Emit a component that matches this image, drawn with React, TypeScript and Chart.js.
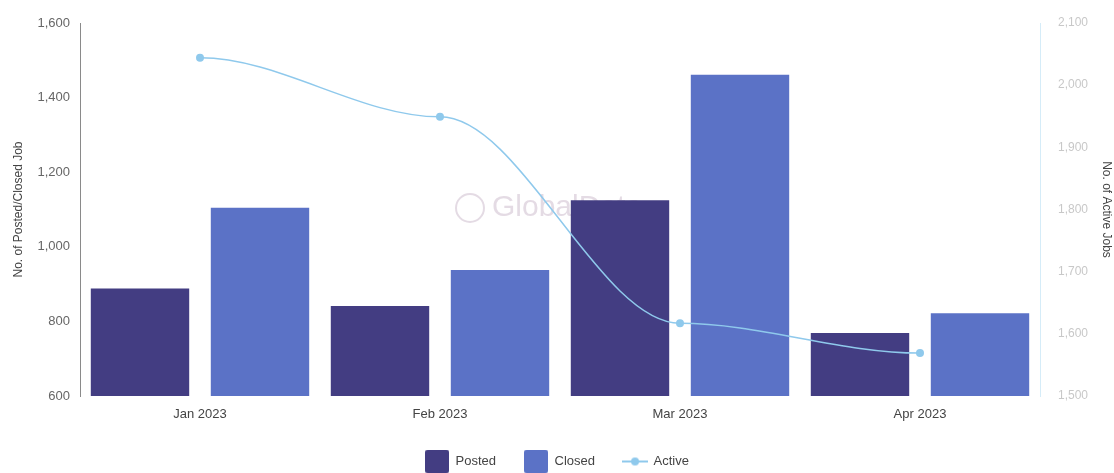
import React, { useEffect, useRef } from "react";
import { Chart, registerables } from "chart.js";

Chart.register(...registerables);

const months = ["Jan 2023", "Feb 2023", "Mar 2023", "Apr 2023"];
const postedJobs = [888, 841, 1125, 769];
const closedJobs = [1105, 938, 1461, 822];
const activeJobs = [2044, 1949, 1617, 1569];

const leftTicks = { min: 600, max: 1600, step: 200 };
const rightTicks = { min: 1500, max: 2100, step: 100 };

const POSTED = "#433d82";
const CLOSED = "#5b72c6";
const ACTIVE = "#8fc9ec";
const FONT = "'Liberation Sans', Arial, sans-serif";

function boxIcon(color: string): HTMLCanvasElement {
  const c = document.createElement("canvas");
  c.width = 24;
  c.height = 24;
  const g = c.getContext("2d")!;
  g.fillStyle = color;
  g.beginPath();
  g.roundRect(0, 0, 24, 24, 3);
  g.fill();
  return c;
}

function lineIcon(color: string): HTMLCanvasElement {
  const c = document.createElement("canvas");
  c.width = 26;
  c.height = 10;
  const g = c.getContext("2d")!;
  g.strokeStyle = color;
  g.lineWidth = 2;
  g.beginPath();
  g.moveTo(0, 5);
  g.lineTo(26, 5);
  g.stroke();
  g.fillStyle = color;
  g.beginPath();
  g.arc(13, 5, 4, 0, Math.PI * 2);
  g.fill();
  return c;
}

// Faint brand mark behind the bars
const watermark = {
  id: "watermark",
  beforeDatasetsDraw(chart: any) {
    const { ctx, chartArea } = chart;
    const cx = (chartArea.left + chartArea.right) / 2;
    const cy = 208;
    ctx.save();
    ctx.strokeStyle = "rgba(210,195,210,0.6)";
    ctx.lineWidth = 2;
    ctx.beginPath();
    ctx.arc(cx - 90, cy, 14, 0, Math.PI * 2);
    ctx.stroke();
    ctx.fillStyle = "rgba(210,195,210,0.6)";
    ctx.font = `30px ${FONT}`;
    ctx.textBaseline = "middle";
    ctx.fillText("GlobalData", cx - 68, cy);
    ctx.restore();
  },
};

// Smooth the line with level tangents at every point (control points one third of the way along x)
const flatSpline = {
  id: "flatSpline",
  beforeDatasetDraw(chart: any, args: any) {
    const meta = args.meta;
    if (meta.type !== "line") return;
    meta.dataset.updateControlPoints(chart.chartArea, "x");
    const pts = meta.data;
    pts.forEach((p: any, i: number) => {
      const prev = pts[i - 1];
      const next = pts[i + 1];
      p.cp1x = prev ? p.x - (p.x - prev.x) / 3 : p.x;
      p.cp1y = p.y;
      p.cp2x = next ? p.x + (next.x - p.x) / 3 : p.x;
      p.cp2y = p.y;
    });
  },
};

export default function App() {
  const ref = useRef<HTMLCanvasElement>(null);

  useEffect(() => {
    document.body.style.margin = "0";
    const postedIcon = boxIcon(POSTED);
    const closedIcon = boxIcon(CLOSED);
    const activeIcon = lineIcon(ACTIVE);

    const chart = new Chart(ref.current!, {
      type: "bar",
      data: {
        labels: months,
        datasets: [
          {
            type: "bar",
            label: "Posted",
            data: postedJobs,
            backgroundColor: POSTED,
            yAxisID: "y",
            categoryPercentage: 1,
            barPercentage: 0.82,
            order: 2,
          },
          {
            type: "bar",
            label: "Closed",
            data: closedJobs,
            backgroundColor: CLOSED,
            yAxisID: "y",
            categoryPercentage: 1,
            barPercentage: 0.82,
            order: 2,
          },
          {
            type: "line",
            label: "Active",
            data: activeJobs,
            borderColor: ACTIVE,
            backgroundColor: ACTIVE,
            borderWidth: 1.5,
            pointRadius: 4,
            pointBackgroundColor: ACTIVE,
            pointBorderWidth: 0,
            tension: 0.4,
            yAxisID: "y1",
            order: 1,
          } as any,
        ],
      },
      options: {
        animation: false,
        responsive: false,
        layout: { padding: { top: 23, left: 0, right: 0, bottom: -5 } },
        plugins: {
          tooltip: { enabled: false },
          legend: {
            position: "bottom",
            labels: {
              usePointStyle: true,
              pointStyleWidth: 24,
              padding: 28,
              color: "#444",
              font: { family: FONT, size: 13 },
              generateLabels(ch: any) {
                const icons = [postedIcon, closedIcon, activeIcon];
                return ch.data.datasets.map((ds: any, i: number) => ({
                  text: ds.label,
                  pointStyle: icons[i],
                  fillStyle: "transparent",
                  strokeStyle: "transparent",
                  lineWidth: 0,
                  datasetIndex: i,
                  hidden: false,
                  fontColor: "#444",
                }));
              },
            },
          },
        },
        scales: {
          x: {
            offset: true,
            grid: { display: false },
            border: { display: false },
            ticks: { color: "#444", font: { family: FONT, size: 13 }, padding: 3 },
            afterFit(s: any) {
              s.height = 31;
            },
          },
          y: {
            position: "left",
            min: leftTicks.min,
            max: leftTicks.max,
            grid: { display: false },
            border: { display: true, color: "#8a8a8a", width: 1 },
            ticks: {
              stepSize: leftTicks.step,
              color: "#666",
              padding: 2,
              font: { family: FONT, size: 13 },
            },
            title: {
              display: true,
              text: "No. of Posted/Closed Job",
              color: "#444",
              padding: { top: 11, bottom: 0 },
              font: { family: FONT, size: 12 },
            },
            afterFit(s: any) {
              s.width = 80;
            },
          },
          y1: {
            position: "right",
            min: rightTicks.min,
            max: rightTicks.max,
            grid: { display: false },
            border: { display: true, color: "#d5ecf8", width: 1 },
            ticks: {
              stepSize: rightTicks.step,
              color: "#c8c8c8",
              padding: 10,
              font: { family: FONT, size: 12 },
            },
            title: {
              display: true,
              text: "No. of Active Jobs",
              color: "#444",
              padding: { top: 0, bottom: 0 },
              font: { family: FONT, size: 12 },
            },
            afterFit(s: any) {
              s.width = 74;
            },
          },
        },
      },
      plugins: [watermark, flatSpline],
    });

    return () => chart.destroy();
  }, []);

  return (
    <div style={{ width: 1114, height: 473 }}>
      <canvas ref={ref} width={1114} height={473} />
    </div>
  );
}
